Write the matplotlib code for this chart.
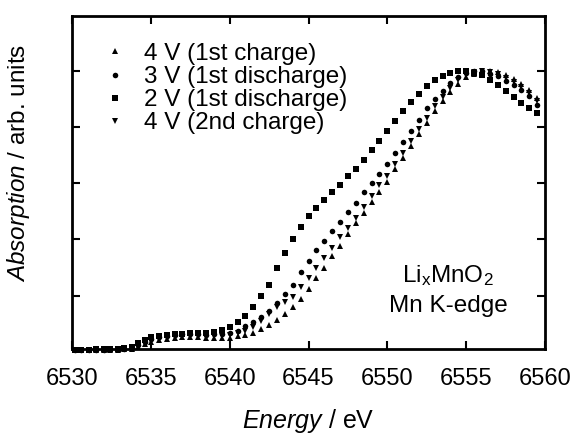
import matplotlib
matplotlib.use("Agg")
import matplotlib.pyplot as plt

plt.rcParams['font.family'] = ['Liberation Sans', 'DejaVu Sans']
plt.rcParams['mathtext.fontset'] = 'custom'
plt.rcParams['mathtext.rm'] = 'Liberation Sans'
plt.rcParams['mathtext.it'] = 'Liberation Sans:italic'

# photon energy (eV), shared by all four scans
energy = [6530.2, 6530.6, 6531.1, 6531.5, 6532.0, 6532.4, 6532.9, 6533.3, 6533.8,
          6534.2, 6534.6, 6535.0, 6535.5, 6536.0, 6536.5, 6537.0, 6537.5, 6538.0,
          6538.5, 6539.0, 6539.5, 6540.0, 6540.5, 6541.0, 6541.5, 6542.0, 6542.5,
          6543.0, 6543.5, 6544.0, 6544.5, 6545.0, 6545.5, 6546.0, 6546.5, 6547.0,
          6547.5, 6548.0, 6548.5, 6549.0, 6549.5, 6550.0, 6550.5, 6551.0, 6551.5,
          6552.0, 6552.5, 6553.0, 6553.5, 6554.0, 6554.5, 6555.0, 6555.5, 6556.0,
          6556.5, 6557.0, 6557.5, 6558.0, 6558.5, 6559.0, 6559.5]

# 4 V (1st charge)
abs_4v_1st = [0.005, 0.005, 0.005, 0.006, 0.006, 0.007, 0.008, 0.009, 0.011,
              0.018, 0.027, 0.036, 0.042, 0.047, 0.050, 0.052, 0.053, 0.052,
              0.050, 0.049, 0.049, 0.050, 0.055, 0.061, 0.067, 0.082, 0.096,
              0.114, 0.135, 0.160, 0.189, 0.225, 0.261, 0.297, 0.340, 0.376,
              0.419, 0.458, 0.494, 0.534, 0.570, 0.605, 0.649, 0.688, 0.731,
              0.774, 0.814, 0.856, 0.892, 0.925, 0.953, 0.978, 0.989, 0.996,
              1.000, 0.996, 0.986, 0.971, 0.953, 0.932, 0.903]
# 3 V (1st discharge)
abs_3v = [0.007, 0.007, 0.007, 0.008, 0.008, 0.009, 0.010, 0.011, 0.014,
          0.025, 0.035, 0.045, 0.052, 0.056, 0.060, 0.062, 0.063, 0.062,
          0.061, 0.062, 0.065, 0.067, 0.074, 0.092, 0.107, 0.125, 0.146,
          0.175, 0.207, 0.239, 0.283, 0.322, 0.361, 0.394, 0.430, 0.462,
          0.498, 0.530, 0.569, 0.600, 0.634, 0.670, 0.709, 0.747, 0.785,
          0.824, 0.867, 0.899, 0.928, 0.957, 0.977, 0.993, 1.000, 0.998,
          0.990, 0.980, 0.965, 0.950, 0.933, 0.910, 0.880]
# 2 V (1st discharge)
abs_2v = [0.008, 0.008, 0.008, 0.009, 0.009, 0.010, 0.011, 0.013, 0.017,
          0.031, 0.042, 0.051, 0.057, 0.060, 0.064, 0.065, 0.067, 0.067,
          0.067, 0.071, 0.078, 0.089, 0.107, 0.128, 0.161, 0.200, 0.239,
          0.297, 0.351, 0.401, 0.444, 0.483, 0.512, 0.540, 0.569, 0.595,
          0.625, 0.652, 0.684, 0.717, 0.749, 0.785, 0.821, 0.857, 0.889,
          0.917, 0.946, 0.968, 0.982, 0.993, 1.000, 1.000, 0.993, 0.986,
          0.966, 0.950, 0.928, 0.907, 0.885, 0.867, 0.849]
# 4 V (2nd charge)
abs_4v_2nd = [0.006, 0.006, 0.006, 0.007, 0.007, 0.008, 0.009, 0.010, 0.012,
              0.020, 0.030, 0.040, 0.047, 0.052, 0.056, 0.058, 0.059, 0.058,
              0.056, 0.056, 0.057, 0.060, 0.067, 0.074, 0.089, 0.110, 0.135,
              0.158, 0.178, 0.196, 0.229, 0.261, 0.300, 0.333, 0.369, 0.408,
              0.440, 0.476, 0.516, 0.555, 0.592, 0.626, 0.667, 0.706, 0.749,
              0.792, 0.831, 0.874, 0.907, 0.939, 0.966, 0.987, 0.996, 1.000,
              0.996, 0.989, 0.975, 0.961, 0.943, 0.921, 0.892]

xticks = [6530, 6535, 6540, 6545, 6550, 6555, 6560]
yticks = [0.2, 0.4, 0.6, 0.8, 1.0]

fs = 17.5
fig = plt.figure(figsize=(5.73, 4.36), dpi=100)
ax = fig.add_axes([0.1257, 0.1995, 0.8255, 0.7638])

ax.plot(energy, abs_4v_1st, '^', color='black', ms=4.3, mew=0, clip_on=False, label='4 V (1st charge)')
ax.plot(energy, abs_3v, 'o', color='black', ms=4.0, mew=0, clip_on=False, label='3 V (1st discharge)')
ax.plot(energy, abs_2v, 's', color='black', ms=4.3, mew=0, clip_on=False, label='2 V (1st discharge)')
ax.plot(energy, abs_4v_2nd, 'v', color='black', ms=4.3, mew=0, clip_on=False, label='4 V (2nd charge)')

ax.set_xlim(6530, 6560)
ax.set_ylim(0.01, 1.195)
ax.set_xticks(xticks)
ax.set_xticklabels([str(x) for x in xticks])
ax.set_yticks(yticks)
ax.set_yticklabels([])
ax.tick_params(direction='in', top=True, right=True, length=5.8, width=1.5,
               labelsize=17, pad=14)
for sp in ax.spines.values():
    sp.set_linewidth(2.0)

ax.set_xlabel(r'$\mathit{Energy}$ / eV', fontsize=18, labelpad=12)
ax.set_ylabel(r'$\mathit{Absorption}$ / arb. units', fontsize=fs)
ax.yaxis.set_label_coords(-0.085, 0.56)

ax.legend(loc='upper left', bbox_to_anchor=(0.0655, 0.919), frameon=False,
          fontsize=fs, handlelength=1.0, handletextpad=0.67, labelspacing=0.045,
          borderpad=0, borderaxespad=0, markerscale=1.0)

ax.text(0.795, 0.222, r'Li$_\mathregular{x}$MnO$_\mathregular{2}$', transform=ax.transAxes,
        ha='center', va='center', fontsize=fs)
ax.text(0.795, 0.129, 'Mn K-edge', transform=ax.transAxes,
        ha='center', va='center', fontsize=fs)

plt.savefig('out.png', dpi=100)
